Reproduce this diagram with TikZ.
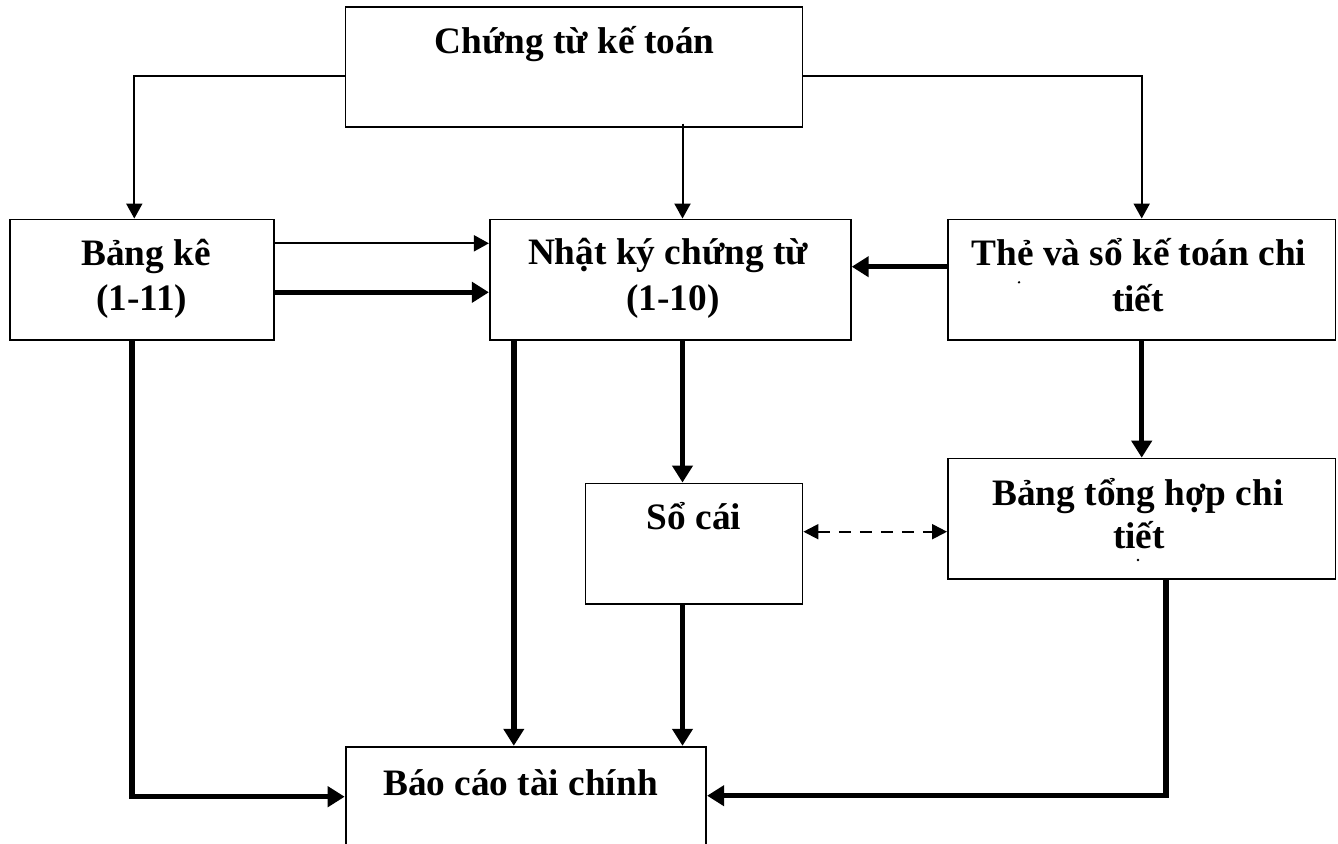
\documentclass[tikz,border=0pt]{standalone}
\usepackage{fontspec}
\setmainfont{Liberation Serif}
\usetikzlibrary{arrows.meta}
\begin{document}
\begin{tikzpicture}[x=1pt,y=-1pt,
  box/.style={draw, line width=1.8pt, inner sep=0pt, minimum height=120.5pt},
  lbl/.style={font=\fontsize{37.3}{45}\selectfont\bfseries, anchor=base, inner sep=0pt},
  thinarrow/.style={line width=2pt, -{Triangle[length=15pt,width=16pt]}},
  thickarrow/.style={line width=5.5pt, -{Triangle[length=17pt,width=20pt]}},
  dasharrow/.style={line width=2pt, dash pattern=on 12pt off 9pt,
    {Triangle[length=15pt,width=15pt]}-{Triangle[length=15pt,width=15pt]}},
  dotmark/.style={fill=black, inner sep=0pt, minimum size=2.6pt, circle}]
\fill[white] (0,0) rectangle (1338,843);
\useasboundingbox (0,0) rectangle (1338,843);
\clip (0,0) rectangle (1338,843);

% boxes
\node[box, minimum width=457pt, minimum height=120pt] (ct) at (574,67.3) {};
\node[box, minimum width=264pt] (bk) at (141.8,279.7) {};
\node[box, minimum width=361pt] (nk) at (670.3,279.7) {};
\node[box, minimum width=387.5pt] (the) at (1141.7,279.7) {};
\node[box, minimum width=217pt] (sc) at (694,543.7) {};
\node[box, minimum width=387.5pt] (th) at (1141.7,518.8) {};
\node[box, minimum width=360.6pt, minimum height=120pt] (bc) at (525.9,806.7) {};

% labels
\node[lbl] (lct) at (574.5,53.3) {Chứng từ kế toán};
\node[lbl] (lbk1) at (146,265) {Bảng kê};
\node[lbl] (lbk2) at (141.7,310) {(1-11)};
\node[lbl] (lnk1) at (668,264.5) {Nhật ký chứng từ};
\node[lbl] (lnk2) at (673,310) {(1-10)};
\node[lbl] (lthe1) at (1139,265) {Thẻ và sổ kế toán chi};
\node[lbl] (lthe2) at (1138,311) {tiết};
\node[lbl] (lsc) at (694,529.5) {Sổ cái};
\node[lbl] (lth1) at (1138,505) {Bảng tổng hợp chi};
\node[lbl] (lth2) at (1139,548.3) {tiết};
\node[lbl] (lbc) at (520.5,795) {Báo cáo tài chính};
\node[dotmark] (d1) at (1019,282.3) {};
\node[dotmark] (d2) at (1138,560) {};

% helper coordinates
\coordinate (nkin) at ([xshift=12.2pt]nk.north);
\coordinate (nkout1) at ([xshift=-156.5pt]nk.south);
\coordinate (nkout2) at ([xshift=12.2pt]nk.south);
\coordinate (ctout) at ([yshift=4.6pt]nkin |- ct.south);
\coordinate (thout) at ([xshift=24.5pt]th.south);
\coordinate (dashy) at ([yshift=12pt]sc.east);

% connectors from top
\draw[thinarrow] ([yshift=-8.7pt]ct.west) -| ([xshift=-7.5pt]bk.north);
\draw[thinarrow] (ctout) -- (nkin);
\draw[thinarrow] ([yshift=-8.7pt]ct.east) -| (the.north);

% row connectors
\draw[thinarrow] ([yshift=36.4pt]bk.east) -- ([yshift=36.4pt]nk.west);
\draw[thickarrow] ([yshift=-12.6pt]bk.east) -- ([yshift=-12.6pt]nk.west);
\draw[thickarrow] ([yshift=13pt]the.west) -- ([yshift=13pt]nk.east);

% downward connectors
\draw[thickarrow] ([xshift=-10pt]bk.south) |- ([yshift=10pt]bc.west);
\draw[thickarrow] (nkout1) -- (nkout1 |- bc.north);
\draw[thickarrow] (nkout2) -- (nkout2 |- sc.north);
\draw[thickarrow] (nkout2 |- sc.south) -- (nkout2 |- bc.north);
\draw[thickarrow] (the.south) -- (th.north);
\draw[dasharrow] (dashy) -- (dashy -| th.west);
\draw[thickarrow] (thout) |- ([yshift=11pt]bc.east);
\end{tikzpicture}
\end{document}
